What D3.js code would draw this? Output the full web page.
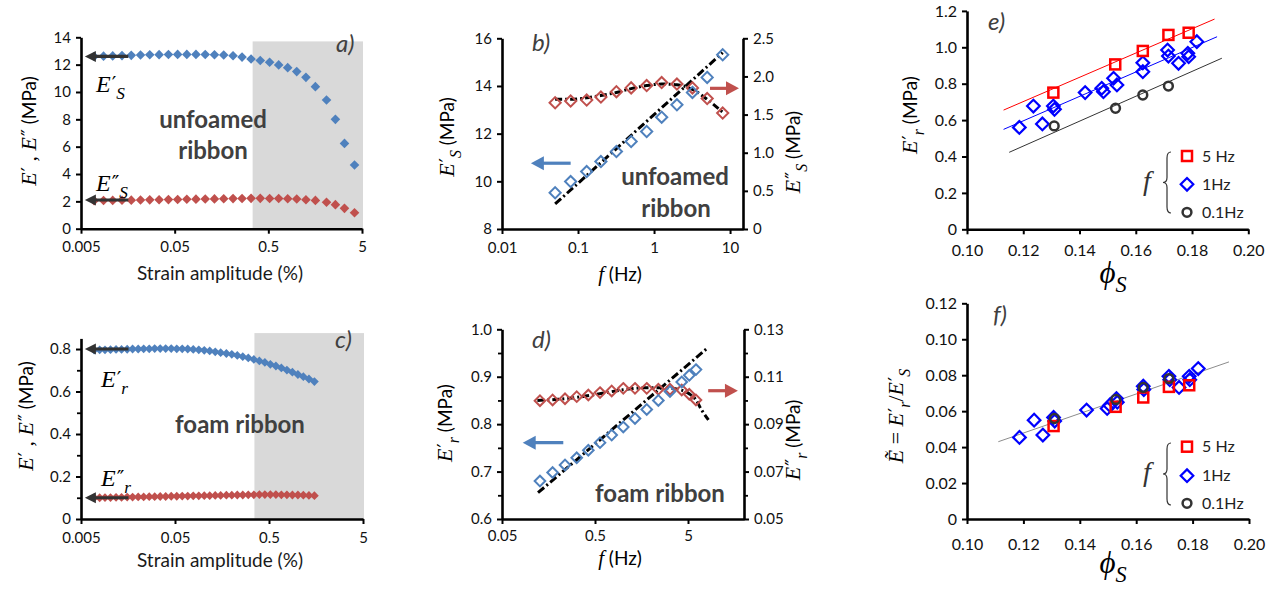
<!DOCTYPE html>
<html><head><meta charset="utf-8">
<script src="https://cdn.jsdelivr.net/npm/d3@7"></script>
<style>
body{margin:0;background:#fff;}
svg{display:block;background:#fff;}
</style></head><body>
<svg id="chart" width="1278" height="590"></svg>
<script>
// ================= DATA =================
// panel a) unfoamed ribbon, strain sweep
const strainA = [0.0069,0.0087,0.0109,0.0137,0.0172,0.0216,0.0271,0.0341,0.0429,0.0538,0.0674,0.0844,0.106,0.133,0.167,0.210,0.262,0.327,0.410,0.516,0.645,0.805,1.005,1.26,1.59,2.09,2.60,3.25,4.16];
const storageA = [12.6,12.62,12.64,12.66,12.68,12.7,12.72,12.73,12.74,12.75,12.75,12.75,12.74,12.72,12.7,12.65,12.55,12.41,12.3,12.17,11.98,11.78,11.49,11.07,10.39,9.41,8.0,6.24,4.66];
const lossA = [2.05,2.06,2.07,2.08,2.09,2.1,2.11,2.12,2.13,2.14,2.15,2.16,2.17,2.18,2.19,2.2,2.21,2.22,2.22,2.21,2.21,2.19,2.17,2.12,2.07,1.93,1.76,1.49,1.17];
const shadeA = [0.34, 5, 13.7];          // strain from, strain to, top value
const arrowsA = [12.6, 2.1];             // plateau values marked by arrows
const arrowStrain = [0.016, 0.0055];     // arrow tail, tip
// panel c) foam ribbon, strain sweep
const strainC = [0.0069,0.0079,0.0090,0.0103,0.0118,0.0135,0.0155,0.0177,0.0203,0.0232,0.0266,0.0304,0.0348,0.0398,0.0456,0.0522,0.0597,0.0683,0.0782,0.0895,0.1024,0.117,0.134,0.153,0.176,0.201,0.230,0.263,0.301,0.345,0.395,0.452,0.517,0.592,0.677,0.775,0.887,1.015,1.16,1.33,1.52];
const storageC = [0.795,0.796,0.796,0.797,0.798,0.798,0.799,0.800,0.800,0.801,0.801,0.802,0.802,0.802,0.802,0.801,0.801,0.800,0.798,0.796,0.794,0.791,0.787,0.783,0.779,0.775,0.770,0.764,0.758,0.751,0.744,0.737,0.728,0.720,0.711,0.701,0.691,0.680,0.670,0.659,0.647];
const lossC = [0.100,0.100,0.101,0.101,0.102,0.102,0.103,0.103,0.104,0.104,0.105,0.105,0.106,0.106,0.107,0.107,0.108,0.108,0.109,0.109,0.110,0.110,0.111,0.111,0.112,0.112,0.113,0.113,0.114,0.114,0.115,0.115,0.115,0.115,0.114,0.114,0.113,0.113,0.112,0.111,0.110];
const shadeC = [0.35, 5, 0.875];
const arrowsC = [0.8, 0.1];
// panel b) unfoamed ribbon, frequency sweep
const freqB = [0.05,0.08,0.13,0.2,0.32,0.5,0.8,1.26,2,3.2,5,8];
const storageB = [9.52,9.99,10.41,10.83,11.25,11.67,12.09,12.69,13.21,13.73,14.36,15.31];
const lossB = [1.655,1.678,1.69,1.73,1.80,1.85,1.88,1.92,1.90,1.85,1.71,1.52];
const fitStorageB_f = [0.05, 8];
const fitStorageB_v = [9.05, 15.4];
const fitLossB_f = [0.05,0.08,0.13,0.2,0.32,0.5,0.8,1.26,2,3.2,5,8];
const fitLossB_v = [1.70,1.70,1.72,1.75,1.79,1.84,1.88,1.90,1.89,1.83,1.70,1.53];
const arrowB_left = [10.76, 0.08, 0.024];    // value, tail f, tip f
const arrowB_right = [1.844, 5.45, 13.1];
// panel d) foam ribbon, frequency sweep
const freqD = [0.128,0.175,0.238,0.318,0.424,0.566,0.756,1.007,1.346,1.80,2.40,3.20,4.28,5.16,6.09];
const storageD = [0.680,0.698,0.714,0.729,0.745,0.761,0.777,0.794,0.812,0.831,0.850,0.869,0.889,0.903,0.915];
const lossD = [0.0999,0.1002,0.1007,0.1016,0.1023,0.1033,0.1040,0.1051,0.1051,0.1051,0.1047,0.1047,0.1044,0.1026,0.1002];
const fitStorageD_f = [0.122, 8.05];
const fitStorageD_v = [0.6555, 0.96];
const fitLossD_f = [0.12,0.2,0.35,0.6,1,1.6,2.5,3.5,4.5,5.2,6.1,7.0,8.3];
const fitLossD_v = [0.1000,0.1005,0.1015,0.1030,0.1045,0.1053,0.1054,0.1050,0.1040,0.1027,0.1002,0.0960,0.0918];
const arrowD_left = [0.761, 0.228, 0.0835];
const arrowD_right = [0.1041, 8.24, 17.2];
// panel e) E'_r vs phi_S
const phi5 = [0.1307,0.1527,0.1625,0.1716,0.1788];
const Er5 = [0.751,0.906,0.980,1.068,1.080];
const phi1 = [0.1186,0.1236,0.1268,0.1307,0.1311,0.1420,0.1479,0.1485,0.1521,0.1533,0.1625,0.1625,0.1713,0.1716,0.1752,0.1785,0.1788,0.1817];
const Er1 = [0.560,0.677,0.579,0.677,0.659,0.751,0.775,0.756,0.830,0.793,0.915,0.866,0.985,0.952,0.912,0.967,0.948,1.031];
const phi01 = [0.1310,0.1528,0.1625,0.1716];
const Er01 = [0.568,0.665,0.738,0.787];
const fitE_phi = [[0.113,0.188],[0.113,0.1889],[0.115,0.1906]];
const fitE_val = [[0.655,1.155],[0.549,1.058],[0.423,0.94]];
// panel f) reduced modulus vs phi_S
const Ered5 = [0.0517,0.0624,0.0676,0.0735,0.0744];
const phi1f = [0.1186,0.1238,0.1269,0.1307,0.1311,0.1424,0.1497,0.1506,0.1530,0.1533,0.1625,0.1627,0.1716,0.1719,0.1752,0.1788,0.1790,0.1820];
const Ered1 = [0.0454,0.0550,0.0467,0.0565,0.0545,0.0606,0.0615,0.0633,0.0670,0.0650,0.0739,0.0720,0.0794,0.0775,0.0732,0.0794,0.0775,0.0837];
const Ered01 = [0.0559,0.0665,0.0732,0.0781];
const fitF_phi = [0.1111, 0.1929];
const fitF_val = [0.043, 0.0874];
const legendLabels = ['5 Hz','1Hz','0.1Hz'];
// tick labels
const strainTicks = [0.005,0.05,0.5,5];
const strainTickLabels = ['0.005','0.05','0.5','5'];
const ticksAy = [0,2,4,6,8,10,12,14];
const ticksCy = [0,0.2,0.4,0.6,0.8];
const ticksCyMinor = [0.1,0.3,0.5,0.7];
const ticksBx = [0.01,0.1,1,10];
const ticksBxLabels = ['0.01','0.1','1','10'];
const ticksByL = [8,10,12,14,16];
const ticksByR = [0,0.5,1,1.5,2,2.5];
const ticksByRLabels = ['0','0.5','1.0','1.5','2.0','2.5'];
const ticksDx = [0.05,0.5,5];
const ticksDxLabels = ['0.05','0.5','5'];
const ticksDyL = [0.6,0.7,0.8,0.9,1.0];
const ticksDyLMinor = [0.65,0.75,0.85,0.95];
const ticksDyR = [0.05,0.07,0.09,0.11,0.13];
const ticksDyRMinor = [0.06,0.08,0.10,0.12];
const ticksPhi = [0.10,0.12,0.14,0.16,0.18,0.20];
const ticksEy = [0,0.2,0.4,0.6,0.8,1.0,1.2];
const ticksFy = [0,0.02,0.04,0.06,0.08,0.10,0.12];

// ================= DRAWING =================
const svg = d3.select('#chart');
const COL = {blue:'#4F81BD', red:'#C0504D', shade:'#D9D9D9', note:'#404040', arrow:'#333333',
             r5:'#FF0000', b1:'#0000FF', k01:'#333333'};
const SERIF = '"Liberation Serif","DejaVu Serif",serif';
const PRIME = '"DejaVu Serif","Liberation Serif",serif';
const SANS = 'Lato,"Open Sans",sans-serif';

function styleAxis(g, fs){
  g.select('.domain').attr('stroke','#000').attr('stroke-width',2.6);
  g.selectAll('.tick line').attr('stroke','#000').attr('stroke-width',2);
  g.selectAll('.tick text').attr('font-family',SANS).attr('font-size',fs).attr('fill','#111');
}
function addAxis(gen, tr, fs){
  const g = svg.append('g').attr('transform',tr).call(gen);
  styleAxis(g, fs); return g;
}
function minor(gen, tr){
  const g = svg.append('g').attr('transform',tr).call(gen);
  g.select('.domain').remove();
  g.selectAll('.tick line').attr('stroke','#000').attr('stroke-width',1.8);
  g.selectAll('.tick text').remove();
}
// math-style label: italic serif symbols with primes and subscripts
function mlabel(x,y,segs,o){
  const size = o.size||20;
  const t = svg.append('text').attr('x',x).attr('y',y).attr('font-size',size)
    .attr('text-anchor',o.anchor||'start').attr('fill',o.fill||'#000');
  if(o.rot) t.attr('transform',`rotate(-90 ${x} ${y})`);
  let cdy=0;
  segs.forEach(s=>{
    const b = t.append('tspan').text(s.t)
      .attr('font-family', s.sans?SANS:SERIF)
      .attr('font-style', (s.sans||s.up)?'normal':'italic');
    if(s.size) b.attr('font-size', s.size);
    if(cdy) b.attr('dy', cdy);
    cdy=0;
    if(s.pr){
      t.append('tspan').text(s.pr).attr('font-family',PRIME).attr('font-style','normal')
        .attr('font-size',size*0.85).attr('dx',1).attr('dy',-size*0.05);
      cdy += size*0.05;
    }
    if(s.sub){
      const sh = size*0.3;
      t.append('tspan').text(s.sub).attr('font-family',SERIF).attr('font-style','italic')
        .attr('font-size', size*0.72).attr('dy', sh+cdy);
      cdy = -sh;
    }
  });
  return t;
}
function note(x,y,txt,o){
  return svg.append('text').attr('x',x).attr('y',y).text(txt)
    .attr('font-family',SANS).attr('font-size',o.size).attr('font-weight',o.bold?'bold':'normal')
    .attr('font-style',o.italic?'italic':'normal').attr('fill',o.fill||COL.note)
    .attr('text-anchor',o.anchor||'start');
}
function arrow(x1,y,x2,color,hl,hw,lw){
  const dir = Math.sign(x2-x1);
  svg.append('line').attr('x1',x1).attr('y1',y).attr('x2',x2-dir*hl*0.7).attr('y2',y)
    .attr('stroke',color).attr('stroke-width',lw);
  svg.append('path').attr('d',`M${x2},${y}L${x2-dir*hl},${y-hw}L${x2-dir*hl},${y+hw}Z`).attr('fill',color);
}
const diamond = r => `M0,${-r}L${r},0L0,${r}L${-r},0Z`;
function marks(xs,ys,sx,sy,shape,style){
  const g = svg.append('g');
  xs.forEach((v,i)=>{
    const X=sx(v), Y=sy(ys[i]);
    let m;
    if(shape==='diamond') m = g.append('path').attr('d',diamond(style.r)).attr('transform',`translate(${X},${Y})`);
    else if(shape==='square') m = g.append('rect').attr('x',X-style.r).attr('y',Y-style.r).attr('width',2*style.r).attr('height',2*style.r);
    else m = g.append('circle').attr('cx',X).attr('cy',Y).attr('r',style.r);
    m.attr('fill',style.fill||'none').attr('stroke',style.stroke||'none').attr('stroke-width',style.sw||0);
  });
}
function fitLine(fs,vs,sx,sy,style,curve){
  const pts = fs.map((f,i)=>[sx(f),sy(vs[i])]);
  svg.append('path').attr('d',d3.line().curve(curve||d3.curveLinear)(pts))
    .attr('fill','none').attr('stroke',style.stroke).attr('stroke-width',style.w)
    .attr('stroke-dasharray',style.dash||null);
}

// ---------- panel a ----------
{
  const x = d3.scaleLog().domain([0.005,5]).range([81,362]);
  const y = d3.scaleLinear().domain([0,14]).range([228.7,37.3]);
  svg.append('rect').attr('x',x(shadeA[0])).attr('y',y(shadeA[2])).attr('width',x(shadeA[1])-x(shadeA[0])+1)
    .attr('height',y(0)-y(shadeA[2])).attr('fill',COL.shade);
  note(213,128,'unfoamed',{size:24,bold:true,anchor:'middle'});
  note(213,159,'ribbon',{size:24,bold:true,anchor:'middle'});
  marks(strainA,lossA,x,y,'diamond',{r:4.8,fill:COL.red});
  marks(strainA,storageA,x,y,'diamond',{r:4.8,fill:COL.blue});
  arrowsA.forEach(v=>arrow(x(arrowStrain[0]),y(v),x(arrowStrain[1]),COL.arrow,11,5.5,3.2));
  addAxis(d3.axisBottom(x).tickValues(strainTicks).tickFormat((d,i)=>strainTickLabels[i]).tickSize(5).tickSizeOuter(0).tickPadding(8),'translate(0,228.7)',15);
  addAxis(d3.axisLeft(y).tickValues(ticksAy).tickFormat(d3.format('d')).tickSize(5).tickSizeOuter(0).tickPadding(5),'translate(81,0)',15);
  mlabel(96,92,[{t:'E',pr:'′',sub:'S'}],{size:24});
  mlabel(96,191,[{t:'E',pr:'″',sub:'S'}],{size:24});
  note(336,52,'a)',{size:24,italic:true});
  note(220,280,'Strain amplitude (%)',{size:19,fill:'#1a1a1a',anchor:'middle'});
  mlabel(36,131,[{t:'E',pr:'′'},{t:' , ',up:true},{t:'E',pr:'″'},{t:' (MPa)',sans:true,size:19}],{size:22,anchor:'middle',rot:true});
}
// ---------- panel c ----------
{
  const x = d3.scaleLog().domain([0.005,5]).range([81,363]);
  const y = d3.scaleLinear().domain([0,0.85]).range([519,338.4]);
  svg.append('rect').attr('x',x(shadeC[0])).attr('y',y(shadeC[2])).attr('width',x(shadeC[1])-x(shadeC[0])+1)
    .attr('height',y(0)-y(shadeC[2])).attr('fill',COL.shade);
  note(240,433,'foam ribbon',{size:24,bold:true,anchor:'middle'});
  marks(strainC,lossC,x,y,'diamond',{r:4.4,fill:COL.red});
  marks(strainC,storageC,x,y,'diamond',{r:4.4,fill:COL.blue});
  arrowsC.forEach(v=>arrow(x(arrowStrain[0]),y(v),x(arrowStrain[1]),COL.arrow,11,5.5,3.2));
  addAxis(d3.axisBottom(x).tickValues(strainTicks).tickFormat((d,i)=>strainTickLabels[i]).tickSize(5).tickSizeOuter(0).tickPadding(8),'translate(0,519)',15);
  addAxis(d3.axisLeft(y).tickValues(ticksCy).tickFormat(d=>d===0?'0':d3.format('.1f')(d)).tickSize(5).tickSizeOuter(0).tickPadding(5),'translate(81,0)',15);
  minor(d3.axisLeft(y).tickValues(ticksCyMinor).tickSize(4),'translate(81,0)');
  mlabel(101,387,[{t:'E',pr:'′',sub:'r'}],{size:24});
  mlabel(101,486,[{t:'E',pr:'″',sub:'r'}],{size:24});
  note(335,348,'c)',{size:24,italic:true});
  note(220,567,'Strain amplitude (%)',{size:19,fill:'#1a1a1a',anchor:'middle'});
  mlabel(33,416,[{t:'E',pr:'′'},{t:' , ',up:true},{t:'E',pr:'″'},{t:' (MPa)',sans:true,size:19}],{size:22,anchor:'middle',rot:true});
}
// ---------- panel b ----------
{
  const x = d3.scaleLog().domain([0.01,14.8]).range([502,743]);
  const yl = d3.scaleLinear().domain([8,16]).range([229,38.3]);
  const yr = d3.scaleLinear().domain([0,2.5]).range([229,38.3]);
  note(675,185,'unfoamed',{size:24,bold:true,anchor:'middle'});
  note(676,217,'ribbon',{size:24,bold:true,anchor:'middle'});
  fitLine(fitStorageB_f,fitStorageB_v,x,yl,{stroke:'#000',w:3,dash:'8,3,2,3'});
  fitLine(fitLossB_f,fitLossB_v,x,yr,{stroke:'#000',w:3,dash:'7,3,2,3'},d3.curveMonotoneX);
  marks(freqB,lossB,x,yr,'diamond',{r:5.6,stroke:COL.red,sw:2});
  marks(freqB,storageB,x,yl,'diamond',{r:5.6,stroke:COL.blue,sw:2});
  arrow(x(arrowB_left[1]),yl(arrowB_left[0]),x(arrowB_left[2]),COL.blue,13,7,3.2);
  arrow(x(arrowB_right[1]),yr(arrowB_right[0]),x(arrowB_right[2]),COL.red,13,7,3.2);
  addAxis(d3.axisBottom(x).tickValues(ticksBx).tickFormat((d,i)=>ticksBxLabels[i]).tickSize(5).tickSizeOuter(0).tickPadding(8),'translate(0,229)',15);
  addAxis(d3.axisLeft(yl).tickValues(ticksByL).tickFormat(d3.format('d')).tickSize(5).tickSizeOuter(0).tickPadding(5),'translate(502,0)',15);
  addAxis(d3.axisRight(yr).tickValues(ticksByR).tickFormat((d,i)=>ticksByRLabels[i]).tickSize(5).tickSizeOuter(0).tickPadding(5),'translate(743,0)',15);
  note(532,51,'b)',{size:24,italic:true});
  mlabel(620,281,[{t:'f'},{t:' (Hz)',sans:true,size:19}],{size:21,anchor:'middle'});
  mlabel(454,137,[{t:'E',pr:'′',sub:'S'},{t:' (MPa)',sans:true,size:19}],{size:22,anchor:'middle',rot:true});
  mlabel(800,152,[{t:'E',pr:'″',sub:'S'},{t:' (MPa)',sans:true,size:19}],{size:22,anchor:'middle',rot:true});
}
// ---------- panel d ----------
{
  const x = d3.scaleLog().domain([0.05,20]).range([502,744]);
  const yl = d3.scaleLinear().domain([0.6,1.0]).range([519,329.3]);
  const yr = d3.scaleLinear().domain([0.05,0.13]).range([519,329.3]);
  note(660,502,'foam ribbon',{size:24,bold:true,anchor:'middle'});
  fitLine(fitStorageD_f,fitStorageD_v,x,yl,{stroke:'#000',w:3,dash:'8,3,2,3'});
  fitLine(fitLossD_f,fitLossD_v,x,yr,{stroke:'#000',w:3,dash:'7,3,2,3'},d3.curveMonotoneX);
  marks(freqD,lossD,x,yr,'diamond',{r:5.3,stroke:COL.red,sw:2});
  marks(freqD,storageD,x,yl,'diamond',{r:5.3,stroke:COL.blue,sw:2});
  arrow(x(arrowD_left[1]),yl(arrowD_left[0]),x(arrowD_left[2]),COL.blue,13,7,3.2);
  arrow(x(arrowD_right[1]),yr(arrowD_right[0]),x(arrowD_right[2]),COL.red,13,7,3.2);
  addAxis(d3.axisBottom(x).tickValues(ticksDx).tickFormat((d,i)=>ticksDxLabels[i]).tickSize(5).tickSizeOuter(0).tickPadding(6),'translate(0,519)',15);
  addAxis(d3.axisLeft(yl).tickValues(ticksDyL).tickFormat(d3.format('.1f')).tickSize(5).tickSizeOuter(0).tickPadding(5),'translate(502,0)',15);
  minor(d3.axisLeft(yl).tickValues(ticksDyLMinor).tickSize(4),'translate(502,0)');
  addAxis(d3.axisRight(yr).tickValues(ticksDyR).tickFormat(d3.format('.2f')).tickSize(5).tickSizeOuter(0).tickPadding(5),'translate(744,0)',15);
  minor(d3.axisRight(yr).tickValues(ticksDyRMinor).tickSize(4),'translate(744,0)');
  note(532,348,'d)',{size:24,italic:true});
  mlabel(620,565,[{t:'f'},{t:' (Hz)',sans:true,size:19}],{size:21,anchor:'middle'});
  mlabel(452,423,[{t:'E',pr:'′',sub:'r'},{t:' (MPa)',sans:true,size:19}],{size:22,anchor:'middle',rot:true});
  mlabel(800,440,[{t:'E',pr:'″',sub:'r'},{t:' (MPa)',sans:true,size:19}],{size:22,anchor:'middle',rot:true});
}
// ---------- legend helper for e/f ----------
function phiLegend(yTop, yBot, ys){
  const xb = 1171, ym = (yTop+yBot)/2;
  svg.append('path').attr('d',`M${xb},${yTop} Q${xb-4},${yTop} ${xb-4},${yTop+6} L${xb-4},${ym-5} Q${xb-4},${ym} ${xb-8},${ym} Q${xb-4},${ym} ${xb-4},${ym+5} L${xb-4},${yBot-6} Q${xb-4},${yBot} ${xb},${yBot}`)
    .attr('fill','none').attr('stroke','#333').attr('stroke-width',1.2);
  mlabel(1143,ym+7,[{t:'f'}],{size:28,fill:'#333'});
  const cx = 1187;
  svg.append('rect').attr('x',cx-5).attr('y',ys[0]-5).attr('width',10).attr('height',10).attr('fill','none').attr('stroke',COL.r5).attr('stroke-width',2.5);
  svg.append('path').attr('d',diamond(6.3)).attr('transform',`translate(${cx},${ys[1]})`).attr('fill','none').attr('stroke',COL.b1).attr('stroke-width',2.2);
  svg.append('circle').attr('cx',cx).attr('cy',ys[2]).attr('r',4.4).attr('fill','none').attr('stroke',COL.k01).attr('stroke-width',2.5);
  legendLabels.forEach((l,i)=>note(1202,ys[i]+5.5,l,{size:16,fill:'#222'}));
}
// ---------- panel e ----------
{
  const x = d3.scaleLinear().domain([0.1,0.2]).range([967,1248.3]);
  const y = d3.scaleLinear().domain([0,1.2]).range([229.3,10.9]);
  const lc = [COL.r5, COL.b1, COL.k01];
  fitE_phi.forEach((p,i)=>fitLine(p,fitE_val[i],x,y,{stroke:lc[i],w:1}));
  marks(phi1,Er1,x,y,'diamond',{r:6.3,stroke:COL.b1,sw:2.2});
  marks(phi5,Er5,x,y,'square',{r:5,stroke:COL.r5,sw:2.5});
  marks(phi01,Er01,x,y,'circle',{r:4.4,stroke:COL.k01,sw:2.5});
  addAxis(d3.axisBottom(x).tickValues(ticksPhi).tickFormat(d3.format('.2f')).tickSize(5).tickSizeOuter(0).tickPadding(10),'translate(0,229.3)',16);
  addAxis(d3.axisLeft(y).tickValues(ticksEy).tickFormat(d=>d===0?'0':d3.format('.1f')(d)).tickSize(5).tickSizeOuter(0).tickPadding(5),'translate(967,0)',16);
  phiLegend(152,213,[156,184.3,212.3]);
  note(988,30,'e)',{size:24,italic:true});
  mlabel(1113,283,[{t:'ϕ',sub:'S'}],{size:31,anchor:'middle'});
  mlabel(917,115,[{t:'E',pr:'′',sub:'r'},{t:' (MPa)',sans:true,size:19}],{size:22,anchor:'middle',rot:true});
}
// ---------- panel f ----------
{
  const x = d3.scaleLinear().domain([0.1,0.2]).range([967,1249]);
  const y = d3.scaleLinear().domain([0,0.12]).range([519,303.3]);
  fitLine(fitF_phi,fitF_val,x,y,{stroke:'#8c8c8c',w:1});
  marks(phi1f,Ered1,x,y,'diamond',{r:6.3,stroke:COL.b1,sw:2.2});
  marks(phi5,Ered5,x,y,'square',{r:5,stroke:COL.r5,sw:2.5});
  marks(phi01,Ered01,x,y,'circle',{r:4.4,stroke:COL.k01,sw:2.5});
  addAxis(d3.axisBottom(x).tickValues(ticksPhi).tickFormat(d3.format('.2f')).tickSize(5).tickSizeOuter(0).tickPadding(15),'translate(0,519)',16);
  addAxis(d3.axisLeft(y).tickValues(ticksFy).tickFormat(d=>d===0?'0':d3.format('.2f')(d)).tickSize(5).tickSizeOuter(0).tickPadding(5),'translate(967,0)',16);
  phiLegend(443,505,[446.7,475.7,503.3]);
  note(993,323,'f)',{size:24,italic:true});
  mlabel(1113,573,[{t:'ϕ',sub:'S'}],{size:31,anchor:'middle'});
  mlabel(903,416,[{t:'Ẽ'},{t:' = ',up:true},{t:'E',pr:'′',sub:'r'},{t:'/',up:true},{t:'E',pr:'′',sub:'S'}],{size:22,anchor:'middle',rot:true});
}
</script>
</body></html>
